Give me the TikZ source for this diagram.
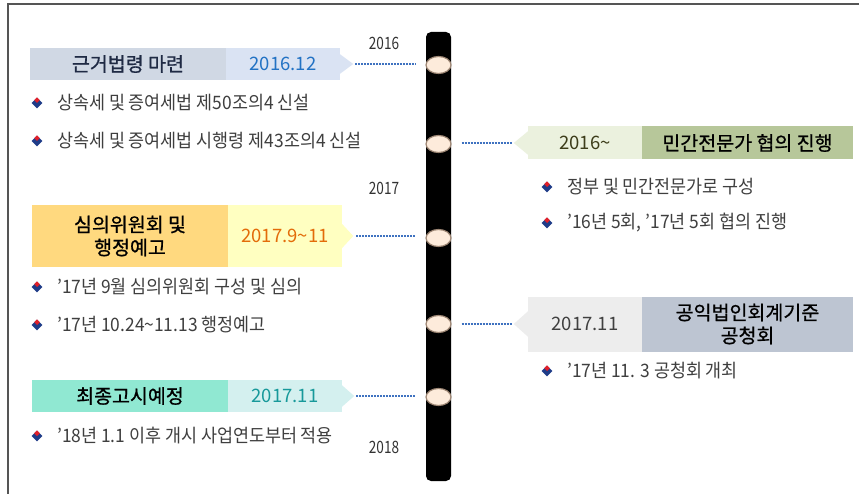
\documentclass[tikz,border=0pt]{standalone}
\usepackage{fontspec}
\setmainfont{Noto Sans CJK KR}
\newfontfamily\tfont[FakeBold=0.8]{Noto Sans CJK KR}
\newfontfamily\yfont[FakeStretch=0.8]{Noto Sans CJK KR}
\newfontfamily\bfontk[FakeStretch=0.94]{Noto Sans CJK KR}
\usetikzlibrary{shapes.geometric,calc}
\definecolor{frameC}{HTML}{555555}
\definecolor{aL}{HTML}{D0D8E4}\definecolor{aR}{HTML}{DAE3F3}\definecolor{aT}{HTML}{1F2A44}\definecolor{aD}{HTML}{2272C4}
\definecolor{bL}{HTML}{EBF1DE}\definecolor{bR}{HTML}{B7C79A}\definecolor{bD}{HTML}{3D3D1A}
\definecolor{cL}{HTML}{FFD97F}\definecolor{cR}{HTML}{FFFFC1}\definecolor{cD}{HTML}{E36C09}
\definecolor{dL}{HTML}{EDEDED}\definecolor{dR}{HTML}{BDC5D2}\definecolor{dD}{HTML}{404040}
\definecolor{eL}{HTML}{90E8D2}\definecolor{eR}{HTML}{D4F0EF}\definecolor{eD}{HTML}{17999A}
\definecolor{txt}{HTML}{3F3F3F}\definecolor{bblue}{HTML}{1F3C88}\definecolor{bred}{HTML}{E0202A}
\definecolor{dotC}{HTML}{3F72C0}\definecolor{ellF}{HTML}{FDEBDB}\definecolor{ellD}{HTML}{9C8573}
\tikzset{
  part/.style={inner sep=0pt, align=center},
  title/.style={part, font=\tfont\fontsize{19.5}{23}\selectfont, text=black},
  datet/.style={part, font=\fontsize{18.5}{22}\selectfont},
  bultext/.style={anchor=west, inner sep=0pt, text=txt, font=\bfontk\fontsize{18.5}{20}\selectfont},
  yeartext/.style={inner sep=0pt, text=black!80, font=\yfont\fontsize{17}{18}\selectfont},
  dotline/.style={draw=dotC, line width=2pt, dash pattern=on 2pt off 1pt},
  knot/.style={ellipse, fill=ellF, draw=ellD, line width=1.2pt, minimum width=25pt, minimum height=17pt, inner sep=0pt},
  bullet/.pic={
    \fill[bblue] (0,-5.3) -- (5.3,0) -- (0,5.3) -- (-5.3,0) -- cycle;
    \fill[bred] (0,-5.6) -- (2.8,-2.8) -- (0,0) -- (-2.8,-2.8) -- cycle;
  }
}
\begin{document}
\begin{tikzpicture}[x=1pt,y=-1pt]
\useasboundingbox (0,0) rectangle (859,494);
\fill[white] (0,0) rectangle (859,494);
\draw[frameC, line width=1.5pt] (8,494) -- (8,4) -- (859,4);

% timeline bar
\node[fill=black, rounded corners=5pt, minimum width=25pt, minimum height=449pt, inner sep=0pt] (bar) at (438.5,256.5) {};
\node[knot] (e1) at (438.5,65) {};
\node[knot] (e2) at (438.5,144) {};
\node[knot] (e3) at (438.5,238) {};
\node[knot] (e4) at (438.5,324) {};
\node[knot] (e5) at (438.5,397) {};

% year labels
\node[yeartext] (y16) at (384,43) {2016};
\node[yeartext] (y17) at (384,188) {2017};
\node[yeartext] (y18) at (384,447) {2018};

% Box 1
\node[title, fill=aL, text=aT, minimum width=196pt, minimum height=32pt] (t1) at (128,64) {근거법령 마련};
\node[datet, fill=aR, text=aD, minimum width=114pt, minimum height=32pt] (d1) at (283,64) {2016.12};
\fill[aR] ($(d1.east)+(-0.5,-10)$) -- ($(d1.east)+(13,0)$) -- ($(d1.east)+(-0.5,10)$) -- cycle;
\coordinate (p1) at ($(d1.east)+(13,0)$);
\draw[dotline] ([xshift=2pt]p1) -- ([xshift=-10pt]p1 -| e1.west);

% Box 3
\node[title, fill=cL, minimum width=196pt, minimum height=62pt] (t3) at (130,236) {심의위원회 및\\행정예고};
\node[datet, fill=cR, text=cD, minimum width=114pt, minimum height=62pt] (d3) at (285,236) {2017.9\textasciitilde 11};
\fill[cR] ($(d3.east)+(-0.5,-12.5)$) -- ($(d3.east)+(11,0)$) -- ($(d3.east)+(-0.5,12.5)$) -- cycle;
\coordinate (p3) at ($(d3.east)+(11,0)$);
\draw[dotline] ([xshift=3pt]p3) -- ([xshift=-10pt]p3 -| e3.west);

% Box 5
\node[title, fill=eL, minimum width=196pt, minimum height=32pt] (t5) at (130,396) {최종고시예정};
\node[datet, fill=eR, text=eD, minimum width=114pt, minimum height=32pt] (d5) at (285,396) {2017.11};
\fill[eR] ($(d5.east)+(-0.5,-11)$) -- ($(d5.east)+(12,0)$) -- ($(d5.east)+(-0.5,11)$) -- cycle;
\coordinate (p5) at ($(d5.east)+(12,0)$);
\draw[dotline] ([xshift=2pt]p5) -- ([xshift=-10pt]p5 -| e5.west);

% Box 2
\node[datet, fill=bL, text=bD, minimum width=114pt, minimum height=33pt] (d2) at (585,143) {2016\textasciitilde};
\node[title, fill=bR, minimum width=211pt, minimum height=33pt] (t2) at (747.5,143) {민간전문가 협의 진행};
\fill[bL] ($(d2.west)+(0.5,-12)$) -- ($(d2.west)+(-14,0)$) -- ($(d2.west)+(0.5,12)$) -- cycle;
\coordinate (p2) at ($(d2.west)+(-14,0)$);
\draw[dotline] ([xshift=10pt]p2 -| e2.east) -- ([xshift=-2pt]p2);

% Box 4
\node[datet, fill=dL, text=dD, minimum width=114pt, minimum height=55pt] (d4) at (585,324) {2017.11};
\node[title, fill=dR, minimum width=211pt, minimum height=55pt] (t4) at (747.5,324) {공익법인회계기준\\공청회};
\fill[dL] ($(d4.west)+(0.5,-13)$) -- ($(d4.west)+(-14,0)$) -- ($(d4.west)+(0.5,13)$) -- cycle;
\coordinate (p4) at ($(d4.west)+(-14,0)$);
\draw[dotline] ([xshift=10pt]p4 -| e4.east) -- ([xshift=-2pt]p4);

% Left bullets
\pic at (37,103) {bullet};
\node[bultext] (l1) at (57,103) {상속세 및 증여세법 제50조의4 신설};
\pic at (37,141) {bullet};
\node[bultext] (l2) at (57,141) {상속세 및 증여세법 시행령 제43조의4 신설};
\pic at (37,287) {bullet};
\node[bultext] (l3) at (57,287) {’17년 9월 심의위원회 구성 및 심의};
\pic at (37,325) {bullet};
\node[bultext] (l4) at (57,325) {’17년 10.24\textasciitilde 11.13 행정예고};
\pic at (37,436) {bullet};
\node[bultext] (l5) at (57,436) {’18년 1.1 이후 개시 사업연도부터 적용};

% Right bullets
\pic at (547,187) {bullet};
\node[bultext] (r1) at (567,187) {정부 및 민간전문가로 구성};
\pic at (547,223) {bullet};
\node[bultext] (r2) at (567,223) {’16년 5회, ’17년 5회 협의 진행};
\pic at (547,371) {bullet};
\node[bultext] (r3) at (567,371) {’17년 11. 3 공청회 개최};
\end{tikzpicture}
\end{document}
